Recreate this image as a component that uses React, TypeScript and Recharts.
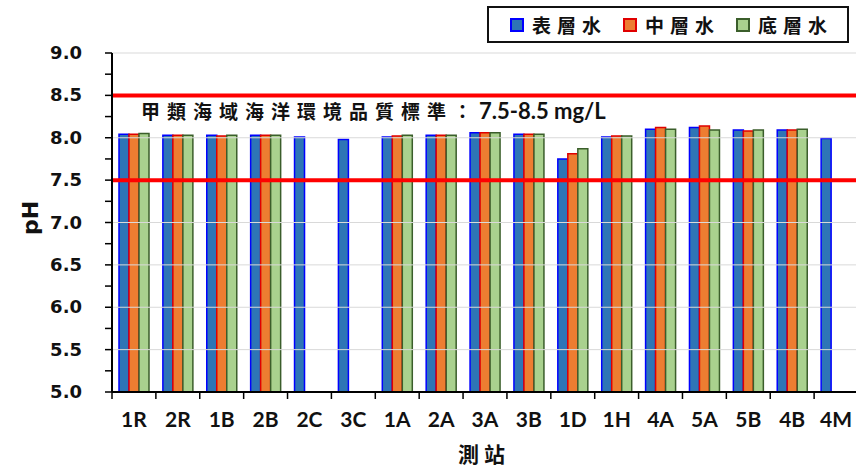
import { Bar, BarChart, ReferenceLine, XAxis, YAxis } from "recharts";

const stations = ["1R", "2R", "1B", "2B", "2C", "3C", "1A", "2A", "3A", "3B", "1D", "1H", "4A", "5A", "5B", "4B", "4M"];
const surface = [8.04, 8.03, 8.03, 8.03, 8.01, 7.98, 8.01, 8.03, 8.06, 8.04, 7.75, 8.01, 8.1, 8.12, 8.09, 8.09, 7.99];
const middle = [8.04, 8.03, 8.02, 8.03, null, null, 8.02, 8.03, 8.06, 8.04, 7.81, 8.02, 8.12, 8.14, 8.08, 8.09, null];
const bottom = [8.05, 8.03, 8.03, 8.03, null, null, 8.03, 8.03, 8.06, 8.04, 7.87, 8.02, 8.1, 8.09, 8.09, 8.1, null];
const yTicks = [5, 5.25, 5.5, 5.75, 6, 6.25, 6.5, 6.75, 7, 7.25, 7.5, 7.75, 8, 8.25, 8.5, 8.75, 9];
const gridValues = [5.5, 6, 6.5, 7, 7.5, 8, 8.5, 9];
const standardText = "甲類海域海洋環境品質標準：";
const standardRange = "7.5-8.5 mg/L";

const series = [
  { key: "surface", name: "表層水", fill: "#2E75B6", stroke: "#0000FF" },
  { key: "middle", name: "中層水", fill: "#ED7D31", stroke: "#E00000" },
  { key: "bottom", name: "底層水", fill: "#A9D18E", stroke: "#3B5E2B" },
];

const data = stations.map((s, i) => ({
  station: s,
  surface: surface[i],
  middle: middle[i],
  bottom: bottom[i],
}));

const cjk = '"Noto Sans CJK TC", "Noto Sans CJK SC", sans-serif';

function YTick(props: any) {
  const { x, y, payload } = props;
  const v = payload.value;
  if (Math.abs(v * 2 - Math.round(v * 2)) > 0.001) return <g />;
  return (
    <text x={x} y={y} dy={6} textAnchor="end" fontFamily="DejaVu Sans" fontWeight="bold" fontSize={18} fill="#111">
      {v.toFixed(1)}
    </text>
  );
}

function XTick(props: any) {
  const { x, y, payload, index } = props;
  const off = payload.offset ?? 21.9;
  return (
    <g>
      <line x1={x - off} x2={x - off} y1={y} y2={y + 7} stroke="#000" strokeWidth={1.5} />
      {index === stations.length - 1 && (
        <line x1={x + off} x2={x + off} y1={y} y2={y + 7} stroke="#000" strokeWidth={1.5} />
      )}
      <text x={x} y={y + 35} textAnchor="middle" fontFamily="Lato" fontWeight="bold" fontSize={21} fill="#111">
        {payload.value}
      </text>
    </g>
  );
}

function LegendBox() {
  return (
    <div
      style={{
        position: "absolute",
        left: 487,
        top: 6,
        boxSizing: "border-box",
        width: 362,
        height: 37,
        border: "2px solid #111",
        background: "#fff",
        display: "flex",
        alignItems: "center",
        paddingLeft: 21,
        whiteSpace: "nowrap",
      }}
    >
      {series.map((s) => (
        <div key={s.key} style={{ display: "flex", alignItems: "center", marginRight: 16, flexShrink: 0 }}>
          <span
            style={{
              display: "inline-block",
              width: 10,
              height: 10,
              background: s.fill,
              border: `2px solid ${s.stroke}`,
              marginRight: 8,
            }}
          />
          <span style={{ fontFamily: cjk, fontWeight: 700, fontSize: 19, letterSpacing: 6, color: "#111", lineHeight: "20px" }}>
            {s.name}
          </span>
        </div>
      ))}
    </div>
  );
}

export default function App() {
  return (
    <div style={{ position: "absolute", left: 0, top: 0, width: 856, height: 470, overflow: "hidden", background: "#fff" }}>
      <BarChart
        width={870}
        height={470}
        data={data}
        margin={{ top: 53, right: 12, left: 0, bottom: 0 }}
        barSize={10}
        barGap={0}
      >
        {gridValues.map((g) => (
          <ReferenceLine key={g} y={g} stroke="#D9D9D9" strokeWidth={1} />
        ))}
        <XAxis
          dataKey="station"
          height={78}
          axisLine={{ stroke: "#000", strokeWidth: 2 }}
          tickLine={false}
          tickSize={0}
          tickMargin={0}
          interval={0}
          tick={<XTick />}
          label={() => (
            <text x={484} y={462} textAnchor="middle" fontFamily={cjk} fontWeight="bold" fontSize={21} letterSpacing={5} fill="#111">
              測站
            </text>
          )}
        />
        <YAxis
          width={112}
          domain={[5, 9]}
          ticks={yTicks}
          interval={0}
          axisLine={{ stroke: "#000", strokeWidth: 2 }}
          tickLine={{ stroke: "#000", strokeWidth: 1.5 }}
          tickSize={7}
          tickMargin={23}
          tick={<YTick />}
          label={() => (
            <text x={38} y={218} transform="rotate(-90 38 218)" textAnchor="middle" fontFamily="DejaVu Sans" fontWeight="bold" fontSize={22} fill="#111">
              pH
            </text>
          )}
        />
        {series.map((s) => (
          <Bar
            key={s.key}
            dataKey={s.key}
            name={s.name}
            fill={s.fill}
            stroke={s.stroke}
            strokeWidth={1.5}
            isAnimationActive={false}
          />
        ))}
        <ReferenceLine y={7.5} stroke="#FF0000" strokeWidth={4} />
        <ReferenceLine
          y={8.5}
          stroke="#FF0000"
          strokeWidth={4}
          label={(p: any) => {
            const vb = p.viewBox || {};
            return (
              <text x={vb.x + 29} y={vb.y + 24} fontWeight="bold" fill="#111">
                <tspan fontFamily={cjk} fontSize={19} letterSpacing={7}>
                  {standardText}
                </tspan>
                <tspan fontFamily="Lato" fontSize={22}>
                  {standardRange}
                </tspan>
              </text>
            );
          }}
        />
      </BarChart>
      <LegendBox />
    </div>
  );
}
